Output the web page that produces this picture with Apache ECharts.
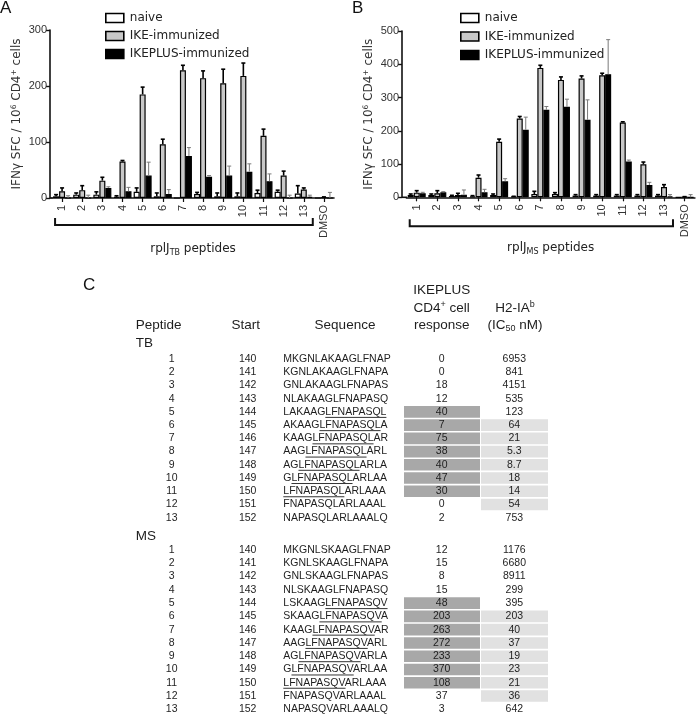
<!DOCTYPE html>
<html><head><meta charset="utf-8">
<script src="https://cdn.jsdelivr.net/npm/echarts@6/dist/echarts.min.js"></script>
<style>html,body{margin:0;padding:0;background:#fff}#c{width:696px;height:714px}</style>
</head><body><div id="c"></div>
<script>
// ---------- DATA ----------
const categories = ['1','2','3','4','5','6','7','8','9','10','11','12','13','DMSO'];
const seriesNames = ['naive','IKE-immunized','IKEPLUS-immunized'];

// Panel A (rplJ TB)
const tbNaive      = [3, 6, 6, 2, 11, 3, 0, 7, 3, 3, 9, 11, 8, 0];
const tbNaiveSem   = [3, 3, 5, 2, 7, 6, 0, 3, 6, 6, 5, 3, 14, 0];
const tbIke        = [12, 14, 31, 65, 185, 96, 228, 214, 205, 218, 111, 40, 15, 1];
const tbIkeSem     = [6, 8, 6, 2, 13, 9, 9, 13, 25, 23, 12, 8, 3, 1];
const tbIkeplus    = [0, 0, 18, 12, 40, 7, 75, 38, 40, 47, 30, 0, 2, 0];
const tbIkeplusSem = [4, 5, 2, 7, 24, 8, 15, 2, 17, 14, 13, 5, 3, 10];

// Panel B (rplJ MS)
const msNaive      = [7, 7, 4, 3, 7, 2, 10, 10, 5, 5, 5, 5, 5, 0];
const msNaiveSem   = [3, 3, 2, 2, 3, 1, 8, 4, 3, 3, 3, 3, 3, 0];
const msIke        = [14, 12, 7, 59, 167, 237, 389, 353, 357, 367, 225, 99, 31, 1];
const msIkeSem     = [6, 8, 5, 8, 8, 6, 8, 9, 8, 6, 2, 7, 7, 1];
const msIkeplus    = [12, 15, 8, 15, 48, 203, 263, 272, 233, 370, 108, 37, 3, 0];
const msIkeplusSem = [3, 2, 14, 9, 8, 38, 10, 23, 60, 104, 4, 8, 5, 8];

const yTicksA = [0, 100, 200, 300];
const yTicksB = [0, 100, 200, 300, 400, 500];

// Table C
const peptideNums = ['1','2','3','4','5','6','7','8','9','10','11','12','13'];
const startPos    = [140, 141, 142, 143, 144, 145, 146, 147, 148, 149, 150, 151, 152];
const tbSeq  = ['MKGNLAKAAGLFNAP','KGNLAKAAGLFNAPA','GNLAKAAGLFNAPAS','NLAKAAGLFNAPASQ','LAKAAGLFNAPASQL',
  'AKAAGLFNAPASQLA','KAAGLFNAPASQLAR','AAGLFNAPASQLARL','AGLFNAPASQLARLA','GLFNAPASQLARLAA',
  'LFNAPASQLARLAAA','FNAPASQLARLAAAL','NAPASQLARLAAALQ'];
const tbResp = [0, 0, 18, 12, 40, 7, 75, 38, 40, 47, 30, 0, 2];
const tbIC50 = [6953, 841, 4151, 535, 123, 64, 21, 5.3, 8.7, 18, 14, 54, 753];
const tbRespShade = [0,0,0,0,1,1,1,1,1,1,1,0,0];
const tbIC50Shade = [0,0,0,0,0,1,1,1,1,1,1,1,0];
const tbCore = 'LFNAPASQL';

const msSeq  = ['MKGNLSKAAGLFNAP','KGNLSKAAGLFNAPA','GNLSKAAGLFNAPAS','NLSKAAGLFNAPASQ','LSKAAGLFNAPASQV',
  'SKAAGLFNAPASQVA','KAAGLFNAPASQVAR','AAGLFNAPASQVARL','AGLFNAPASQVARLA','GLFNAPASQVARLAA',
  'LFNAPASQVARLAAA','FNAPASQVARLAAAL','NAPASQVARLAAALQ'];
const msResp = [12, 15, 8, 15, 48, 203, 263, 272, 233, 370, 108, 37, 3];
const msIC50 = [1176, 6680, 8911, 299, 395, 203, 40, 37, 19, 23, 21, 36, 642];
const msRespShade = [0,0,0,0,1,1,1,1,1,1,1,0,0];
const msIC50Shade = [0,0,0,0,0,1,1,1,1,1,1,1,0];
const msCore = 'LFNAPASQV';

// ---------- LAYOUT / STYLE ----------
const FONT = '"Liberation Sans", Arial, sans-serif';
const WIDE = '"DejaVu Sans", Verdana, sans-serif';
const BAR_W = 6;
const FILLS = ['#ffffff', '#c8c8c8', '#000000'];
const tableCols = {num: 171.7, start: 247.7, seq: 283.3, resp: 441.7, ic50: 514.3,
  respL: 404, respW: 76, icL: 481, icW: 67};
const ROW_FONT = '10.5px ' + FONT;

const measCtx = document.createElement('canvas').getContext('2d');
measCtx.font = ROW_FONT;
const tw = s => measCtx.measureText(s).width;

const chart = echarts.init(document.getElementById('c'));

function barSeries(xi, name, data, k) {
  return {type: 'bar', name, xAxisIndex: xi, yAxisIndex: xi, data, barWidth: BAR_W, barGap: '0%',
    itemStyle: {color: FILLS[k], borderColor: '#000', borderWidth: 1.2}, z: 3};
}
function errSeries(xi, means, sems, k) {
  const color = k === 2 ? '#7a7a7a' : '#000';
  const lw = k === 2 ? 1 : 1.6;
  return {type: 'custom', xAxisIndex: xi, yAxisIndex: xi, z: 4, silent: true, clip: false,
    data: means.map((m, i) => [i, m, m + sems[i]]),
    renderItem(params, api) {
      const i = api.value(0);
      if (api.value(2) <= api.value(1)) return null;
      const base = api.coord([i, api.value(1)]);
      const top = api.coord([i, api.value(2)]);
      const x = base[0] + (k - 1) * BAR_W;
      return {type: 'group', children: [
        {type: 'line', shape: {x1: x, y1: base[1], x2: x, y2: top[1]}, style: {stroke: color, lineWidth: lw}},
        {type: 'line', shape: {x1: x - 2, y1: top[1], x2: x + 2, y2: top[1]}, style: {stroke: color, lineWidth: lw}}
      ]};
    }};
}
function bracketSeries(xi, drop) {
  return {type: 'custom', xAxisIndex: xi, yAxisIndex: xi, silent: true, clip: false, z: 2,
    data: [[0, 0]],
    renderItem(params, api) {
      const p0 = api.coord([0, 0]);
      const p1 = api.coord([12, 0]);
      const x0 = p0[0] - 7, x1 = p1[0] + 9, y = p0[1] + drop;
      return {type: 'polyline', shape: {points: [[x0, y - 7], [x0, y], [x1, y], [x1, y - 7]]},
        style: {stroke: '#111', lineWidth: 2, fill: null}};
    }};
}
function tableSeries(gi, seqs, resp, ic50, respShade, icShade, core) {
  return {type: 'custom', xAxisIndex: gi, yAxisIndex: gi, silent: true, clip: false,
    data: peptideNums.map((n, i) => [0, i]),
    renderItem(params, api) {
      const i = params.dataIndex;
      const y = api.coord([0, i])[1];
      const ch = [];
      if (respShade[i]) ch.push({type: 'rect', shape: {x: tableCols.respL, y: y - 5.8, width: tableCols.respW, height: 11.6}, style: {fill: '#a8a8a8'}});
      if (icShade[i]) ch.push({type: 'rect', shape: {x: tableCols.icL, y: y - 5.8, width: tableCols.icW, height: 11.6}, style: {fill: '#e1e1e1'}});
      const t = (x, s, align) => ({type: 'text', x, y, style: {text: String(s), font: ROW_FONT, fill: '#1e1e1e', align, verticalAlign: 'middle'}});
      ch.push(t(tableCols.num, peptideNums[i], 'center'));
      ch.push(t(tableCols.start, startPos[i], 'center'));
      ch.push(t(tableCols.seq, seqs[i], 'left'));
      ch.push(t(tableCols.resp, resp[i], 'center'));
      ch.push(t(tableCols.ic50, ic50[i], 'center'));
      if (respShade[i]) {
        const idx = seqs[i].indexOf(core);
        if (idx >= 0) {
          const xs = tableCols.seq + tw(seqs[i].slice(0, idx));
          const xe = xs + tw(core);
          ch.push({type: 'line', shape: {x1: xs, y1: y + 5.5, x2: xe, y2: y + 5.5}, style: {stroke: '#333', lineWidth: 1}});
        }
      }
      return {type: 'group', children: ch};
    }};
}

const axisTxt = {fontFamily: FONT, fontSize: 11, color: '#333'};
function yAxisDef(gi, max, offset) {
  return {type: 'value', gridIndex: gi, min: 0, max, interval: 100, offset,
    name: 'IFN\u03b3 SFC / 10{sup|6} CD4{sup|+} cells', nameLocation: 'middle', nameGap: 26,
    nameMoveOverlap: false,
    nameTextStyle: {fontFamily: WIDE, fontSize: 12, color: '#333', lineHeight: 14,
      rich: {sup: {fontFamily: WIDE, fontSize: 7.5, lineHeight: 7, verticalAlign: 'top', color: '#333'}}},
    axisLine: {show: true, lineStyle: {color: '#111', width: 1.6}},
    axisTick: {show: true, length: 4, lineStyle: {color: '#111', width: 1.4}},
    axisLabel: Object.assign({margin: 3}, axisTxt),
    splitLine: {show: false}};
}
function xAxisDef(gi, sub) {
  return {type: 'category', gridIndex: gi, data: categories,
    name: 'rplJ{sub|' + sub + '} peptides', nameLocation: 'middle', nameGap: 43,
    nameMoveOverlap: false,
    nameTextStyle: {fontFamily: WIDE, fontSize: 12, color: '#222', lineHeight: 16,
      rich: {sub: {fontFamily: WIDE, fontSize: 8, lineHeight: 6, verticalAlign: 'bottom', color: '#222'}}},
    axisLine: {show: true, lineStyle: {color: '#111', width: 1.6}},
    axisTick: {show: true, alignWithLabel: true, length: 4, lineStyle: {color: '#111', width: 1.2}},
    axisLabel: Object.assign({rotate: 90, margin: 7, interval: 0}, axisTxt)};
}

const hdr = {fontFamily: FONT, fontSize: 13.5, fill: '#1e1e1e'};
const richHdr = {
  sup: {fontFamily: FONT, fontSize: 9, lineHeight: 9, verticalAlign: 'top', fill: '#1e1e1e'},
  sub: {fontFamily: FONT, fontSize: 9, lineHeight: 6, verticalAlign: 'bottom', fill: '#1e1e1e'}
};
function htext(x, y, text, align, extra) {
  return {type: 'text', x, y, silent: true,
    style: Object.assign({text, align: align || 'center', verticalAlign: 'middle', lineHeight: 16, rich: richHdr}, hdr, extra || {})};
}
const legendDef = (left, gap) => ({data: seriesNames, orient: 'vertical', left, top: 7, icon: 'rect',
  itemWidth: 18, itemHeight: 9, itemGap: gap,
  itemStyle: {borderColor: '#000', borderWidth: 1.6},
  textStyle: {fontFamily: WIDE, fontSize: 12, color: '#222', lineHeight: 12, padding: [0, 0, 0, 1]}});

const option = {
  animation: false,
  backgroundColor: '#fff',
  grid: [
    {left: 52, top: 30, width: 282, height: 168},
    {left: 406.4, top: 31, width: 288.5, height: 166.3},
    {left: 0, top: 359, width: 696, height: 158.7},
    {left: 0, top: 550, width: 696, height: 159.3}
  ],
  legend: [legendDef(100, 6), legendDef(455, 6.5)],
  xAxis: [
    xAxisDef(0, 'TB'), xAxisDef(1, 'MS'),
    {type: 'value', gridIndex: 2, min: 0, max: 696, show: false},
    {type: 'value', gridIndex: 3, min: 0, max: 696, show: false}
  ],
  yAxis: [
    yAxisDef(0, 300, 2), yAxisDef(1, 500, 4.4),
    {type: 'category', gridIndex: 2, data: peptideNums, inverse: true, boundaryGap: false, show: false},
    {type: 'category', gridIndex: 3, data: peptideNums, inverse: true, boundaryGap: false, show: false}
  ],
  series: [
    barSeries(0, seriesNames[0], tbNaive, 0),
    barSeries(0, seriesNames[1], tbIke, 1),
    barSeries(0, seriesNames[2], tbIkeplus, 2),
    errSeries(0, tbNaive, tbNaiveSem, 0),
    errSeries(0, tbIke, tbIkeSem, 1),
    errSeries(0, tbIkeplus, tbIkeplusSem, 2),
    bracketSeries(0, 27),
    barSeries(1, seriesNames[0], msNaive, 0),
    barSeries(1, seriesNames[1], msIke, 1),
    barSeries(1, seriesNames[2], msIkeplus, 2),
    errSeries(1, msNaive, msNaiveSem, 0),
    errSeries(1, msIke, msIkeSem, 1),
    errSeries(1, msIkeplus, msIkeplusSem, 2),
    bracketSeries(1, 29),
    tableSeries(2, tbSeq, tbResp, tbIC50, tbRespShade, tbIC50Shade, tbCore),
    tableSeries(3, msSeq, msResp, msIC50, msRespShade, msIC50Shade, msCore)
  ],
  graphic: [
    {type: 'line', silent: true, shape: {x1: 50, y1: 198, x2: 52.5, y2: 198}, style: {stroke: '#111', lineWidth: 1.6}},
    {type: 'line', silent: true, shape: {x1: 402, y1: 197.3, x2: 407, y2: 197.3}, style: {stroke: '#111', lineWidth: 1.6}},
    {type: 'text', x: 0, y: 8, silent: true, style: {text: 'A', fontFamily: FONT, fontSize: 17, fill: '#111', verticalAlign: 'middle'}},
    {type: 'text', x: 352, y: 8, silent: true, style: {text: 'B', fontFamily: FONT, fontSize: 17, fill: '#111', verticalAlign: 'middle'}},
    {type: 'text', x: 83, y: 285, silent: true, style: {text: 'C', fontFamily: FONT, fontSize: 17, fill: '#111', verticalAlign: 'middle'}},
    htext(441.7, 290, 'IKEPLUS'),
    htext(441.7, 308, 'CD4{sup|+} cell'),
    htext(441.7, 325, 'response'),
    htext(515, 308, 'H2-IA{sup|b}'),
    htext(515, 325, '(IC{sub|50} nM)'),
    htext(135.7, 325, 'Peptide', 'left'),
    htext(245.7, 325, 'Start'),
    htext(345, 325, 'Sequence'),
    htext(135.7, 343, 'TB', 'left'),
    htext(135.7, 536, 'MS', 'left')
  ]
};
chart.setOption(option);
</script>
</body></html>
